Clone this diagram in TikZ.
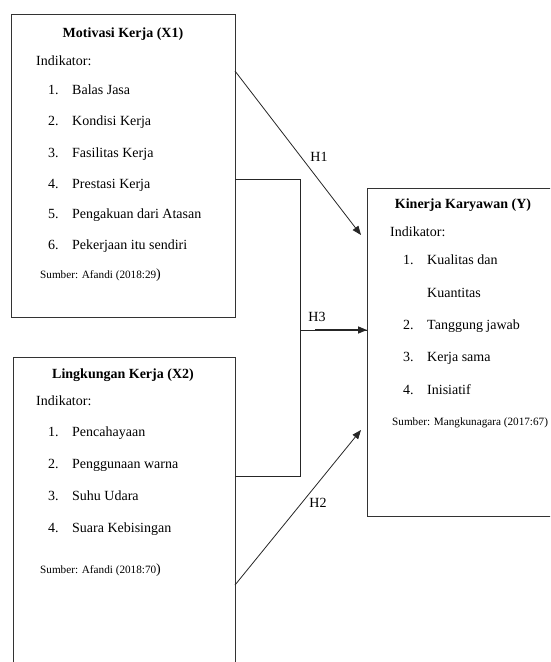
\documentclass[tikz,border=0pt]{standalone}
\usepackage{fontspec}
\setmainfont{Liberation Serif}
\usetikzlibrary{arrows.meta}
\tikzset{
  box/.style={draw=black!80,line width=.9pt,anchor=north west,inner sep=0,outer sep=0},
  ttl/.style={anchor=base,inner sep=0,font=\fontsize{14}{16}\selectfont\bfseries},
  txt/.style={anchor=base west,inner sep=0,font=\fontsize{14}{16}\selectfont},
  src/.style={anchor=base west,inner sep=0,font=\fontsize{11.2}{13}\selectfont},
  hlab/.style={inner sep=0,font=\fontsize{14}{16}\selectfont},
  link/.style={draw=black!85,line width=.8pt},
  arr/.style={link,-{Triangle[length=9pt,width=7pt]}}
}
\newcommand{\itm}[2]{\makebox[24pt][l]{#1}#2}
\begin{document}
\begin{tikzpicture}[x=1pt,y=-1pt]
                \useasboundingbox (0,0) rectangle (550,662);
                \clip (0,0) rectangle (550,662);
                \node[box,minimum width=224pt,minimum height=303pt] (x1) at (11,14) {};
                \node[box,minimum width=222pt,minimum height=330pt] (x2) at (13,357) {};
                \node[box,minimum width=192pt,minimum height=328pt] (y) at (367,188) {};
                \node[ttl] (x1t) at (123,37) {Motivasi Kerja (X1)};
                \node[txt] (x1i) at (36,65) {Indikator:};
                \node[txt] (x1a) at (48,94) {\itm{1.}{Balas Jasa}};
                \node[txt] (x1b) at (48,125) {\itm{2.}{Kondisi Kerja}};
                \node[txt] (x1c) at (48,157) {\itm{3.}{Fasilitas Kerja}};
                \node[txt] (x1d) at (48,188) {\itm{4.}{Prestasi Kerja}};
                \node[txt] (x1e) at (48,218) {\itm{5.}{Pengakuan dari Atasan}};
                \node[txt] (x1f) at (48,249) {\itm{6.}{Pekerjaan itu sendiri}};
                \node[src] (x1s) at (40,278) {Sumber: Afandi (2018:29{\fontsize{14}{16}\selectfont)}};
                \node[ttl] (x2t) at (123,378) {Lingkungan Kerja (X2)};
                \node[txt] (x2i) at (36,405) {Indikator:};
                \node[txt] (x2a) at (48,436) {\itm{1.}{Pencahayaan}};
                \node[txt] (x2b) at (48,468) {\itm{2.}{Penggunaan warna}};
                \node[txt] (x2c) at (48,500) {\itm{3.}{Suhu Udara}};
                \node[txt] (x2d) at (48,532) {\itm{4.}{Suara Kebisingan}};
                \node[src] (x2s) at (40,573) {Sumber: Afandi (2018:70{\fontsize{14}{16}\selectfont)}};
                \node[ttl] (yt) at (463,208) {Kinerja Karyawan (Y)};
                \node[txt] (yi) at (390,236) {Indikator:};
                \node[txt] (ya) at (403,264) {\itm{1.}{Kualitas dan}};
                \node[txt] (ya2) at (427,297) {Kuantitas};
                \node[txt] (yb) at (403,329) {\itm{2.}{Tanggung jawab}};
                \node[txt] (yc) at (403,361) {\itm{3.}{Kerja sama}};
                \node[txt] (yd) at (403,394) {\itm{4.}{Inisiatif}};
                \node[src] (ys) at (392,425) {Sumber: Mangkunagara (2017:67)};
                \coordinate (h1a) at (235,71);
                \coordinate (h1b) at (361,235);
                \coordinate (h2a) at (235,585);
                \coordinate (h2b) at (361,430);
                \coordinate (bta) at (235,179);
                \coordinate (btb) at (300,179);
                \coordinate (bbb) at (300,476);
                \coordinate (bba) at (235,476);
                \coordinate (h3a) at (300,330);
                \coordinate (h3m) at (315,330);
                \coordinate (h3b) at (367,330);
                \draw[arr] (h1a) -- (h1b);
                \draw[arr] (h2a) -- (h2b);
                \draw[link] (bta) -- (btb) -- (bbb) -- (bba);
                \draw[link] (h3a) -- (h3b);
                \draw[arr,line width=1.5pt] (h3m) -- (h3b);
                \node[hlab] (h1) at (319,157) {H1};
                \node[hlab] (h3) at (317,317) {H3};
                \node[hlab] (h2) at (318,503) {H2};
\end{tikzpicture}
\end{document}
